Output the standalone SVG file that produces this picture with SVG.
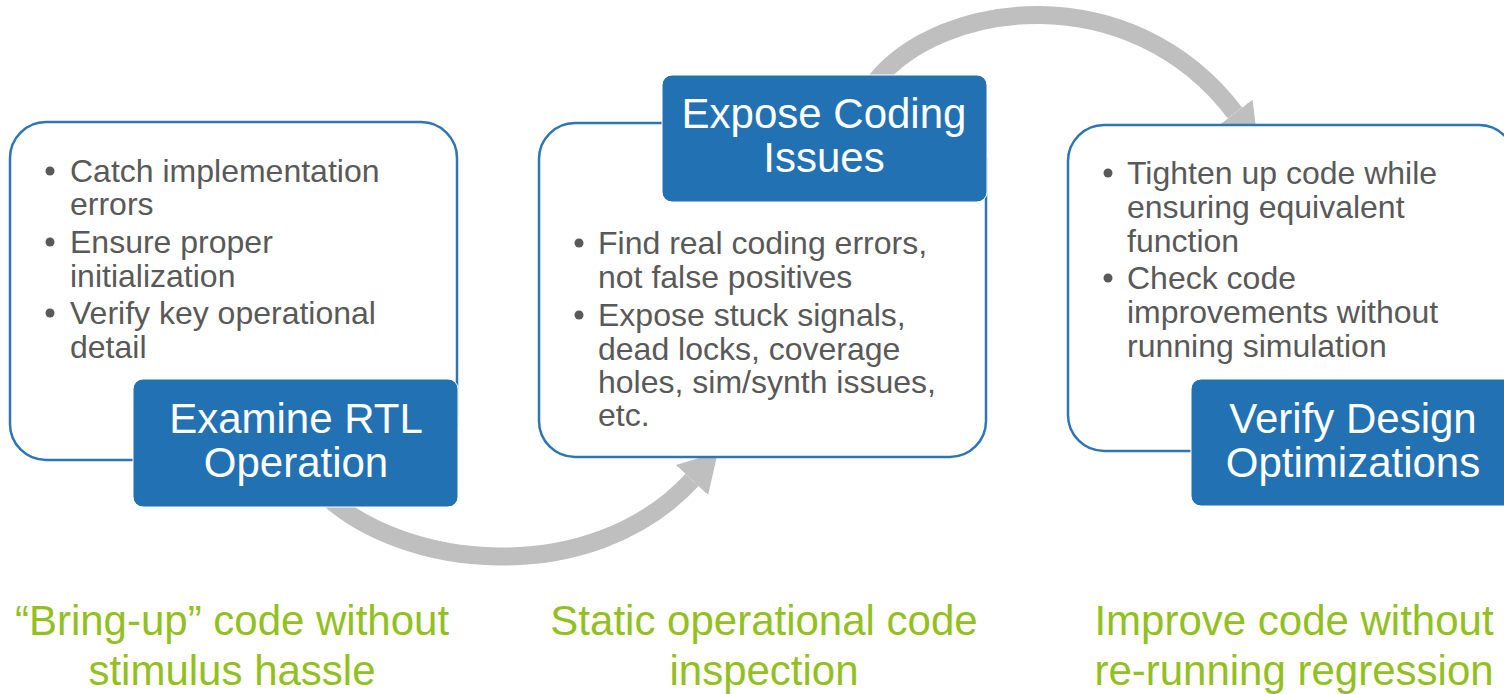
<svg xmlns="http://www.w3.org/2000/svg" width="1504" height="694" viewBox="0 0 1504 694">
  <style>
    .panel { fill: #ffffff; stroke: #2E75B6; stroke-width: 2.5; }
    .tag { fill: #2271B3; stroke: #ffffff; stroke-width: 1; }
    .tag-text { font-family: "Liberation Sans", Arial, sans-serif; font-size: 42px; fill: #ffffff; text-anchor: middle; }
    .body { font-family: "Liberation Sans", Arial, sans-serif; font-size: 32px; fill: #595959; }
    .dot { fill: #595959; }
    .caption { font-family: "Liberation Sans", Arial, sans-serif; font-size: 42px; fill: #93C01F; text-anchor: middle; }
    .flow { fill: none; stroke: #BFBFBF; stroke-width: 18; }
  </style>
  <defs>
    <marker id="head" markerUnits="userSpaceOnUse" markerWidth="40" markerHeight="44" refX="0" refY="22" orient="auto">
      <polygon points="0,0 38,22 0,44" fill="#BFBFBF"/>
    </marker>
  </defs>
  <rect width="1504" height="694" fill="#ffffff"/>

  <!-- curved flow arrows, drawn beneath the panels -->
  <g id="connectors">
    <path class="flow" d="M 322 492 C 400 570, 590 590, 692 480" marker-end="url(#head)"/>
    <path class="flow" d="M 875 82 C 940 0, 1130 -25, 1235 113" marker-end="url(#head)"/>
  </g>

  <!-- stage 1 -->
  <g id="examine-rtl">
    <rect class="panel" x="10" y="122" width="447" height="338" rx="36"/>
    <circle class="dot" cx="50" cy="171" r="4.5"/>
    <circle class="dot" cx="50" cy="242" r="4.5"/>
    <circle class="dot" cx="50" cy="313" r="4.5"/>
    <text class="body" x="70" y="182">Catch implementation</text>
    <text class="body" x="70" y="215">errors</text>
    <text class="body" x="70" y="253">Ensure proper</text>
    <text class="body" x="70" y="287">initialization</text>
    <text class="body" x="70" y="324">Verify key operational</text>
    <text class="body" x="70" y="358">detail</text>
    <rect class="tag" x="133" y="379" width="325" height="128" rx="10"/>
    <text class="tag-text" x="296" y="433">Examine RTL</text>
    <text class="tag-text" x="296" y="477">Operation</text>
  </g>

  <!-- stage 2 -->
  <g id="expose-coding">
    <rect class="panel" x="539" y="123" width="447" height="334" rx="36"/>
    <rect class="tag" x="662" y="75" width="325" height="127" rx="10"/>
    <text class="tag-text" x="824" y="128">Expose Coding</text>
    <text class="tag-text" x="824" y="172">Issues</text>
    <circle class="dot" cx="579" cy="243" r="4.5"/>
    <circle class="dot" cx="579" cy="315" r="4.5"/>
    <text class="body" x="598" y="254">Find real coding errors,</text>
    <text class="body" x="598" y="288">not false positives</text>
    <text class="body" x="598" y="326">Expose stuck signals,</text>
    <text class="body" x="598" y="360">dead locks, coverage</text>
    <text class="body" x="598" y="393">holes, sim/synth issues,</text>
    <text class="body" x="598" y="426">etc.</text>
  </g>

  <!-- stage 3 -->
  <g id="verify-design">
    <rect class="panel" x="1068" y="125" width="447" height="326" rx="36"/>
    <circle class="dot" cx="1108" cy="173" r="4.5"/>
    <circle class="dot" cx="1108" cy="278" r="4.5"/>
    <text class="body" x="1127" y="184">Tighten up code while</text>
    <text class="body" x="1127" y="218">ensuring equivalent</text>
    <text class="body" x="1127" y="252">function</text>
    <text class="body" x="1127" y="289">Check code</text>
    <text class="body" x="1127" y="323">improvements without</text>
    <text class="body" x="1127" y="357">running simulation</text>
    <rect class="tag" x="1191" y="379" width="325" height="127" rx="10"/>
    <text class="tag-text" x="1353" y="433">Verify Design</text>
    <text class="tag-text" x="1353" y="477">Optimizations</text>
  </g>

  <!-- stage outcomes -->
  <g id="captions">
    <text class="caption" x="232" y="635">“Bring-up” code without</text>
    <text class="caption" x="232" y="685">stimulus hassle</text>
    <text class="caption" x="764" y="635">Static operational code</text>
    <text class="caption" x="764" y="685">inspection</text>
    <text class="caption" x="1294" y="635">Improve code without</text>
    <text class="caption" x="1294" y="685">re-running regression</text>
  </g>
</svg>
